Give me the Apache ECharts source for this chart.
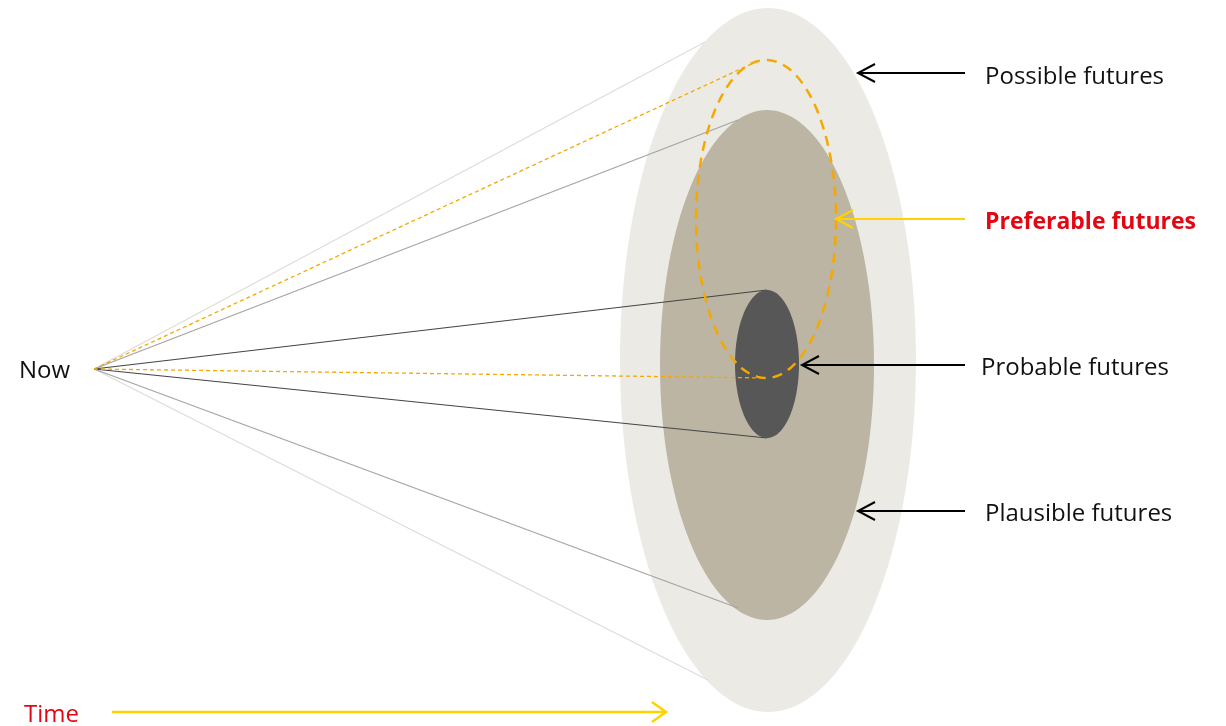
<!DOCTYPE html>
<html>
<head>
<meta charset="utf-8">
<script src="https://cdn.jsdelivr.net/npm/echarts@6/dist/echarts.min.js"></script>
<style>
    html, body { margin: 0; padding: 0; background: #fff; }
    #futures_cone { width: 1226px; height: 726px; }
</style>
</head>
<body>
<div id="futures_cone"></div>
<script>
// ellipses of the cone: [cx, cy, rx, ry]
const possibleEllipse = [768, 360, 148, 352];
const plausibleEllipse = [767, 365, 107, 255];
const probableEllipse = [767, 364, 32, 74];
const preferableEllipse = [766, 219, 70, 159];

// rays from "now" to each ellipse
const apex = [94, 369];
const possibleRayEnds = [[705, 42], [708, 680]];
const plausibleRayEnds = [[738, 120], [738, 608]];
const probableRayEnds = [[767, 290], [767, 438]];
const preferableRayEnds = [[760, 60], [766, 378]];

// label arrows [fromX, fromY, toX, toY]
const labelArrows = [[965, 73, 858, 73], [965, 219, 836, 219], [965, 365, 802, 365], [965, 511, 858, 511]];
const timeArrow = [[112, 712, 666, 712]];

const labelNames = ['Possible futures', 'Preferable futures', 'Probable futures', 'Plausible futures'];
const labelPos = [[985, 77], [985, 222], [981, 368], [985, 514]];
const sideTexts = [['Now', 19, 371], ['Time', 24, 715]];

const FONT = '"Open Sans", "Noto Sans", sans-serif';

const ellipsePoints = (api, e) => {
    const c = api.coord([e[0], e[1]]);
    const s = api.size([e[2], e[3]]);
    const pts = [];
    for (let i = 0; i < 160; i++) {
        const a = i / 160 * Math.PI * 2;
        pts.push([c[0] + s[0] * Math.cos(a), c[1] + s[1] * Math.sin(a)]);
    }
    return pts;
};

const ellipseSeries = (e, style) => ({
    type: 'custom',
    data: [e],
    silent: true,
    renderItem: (params, api) => ({
        type: 'polygon',
        shape: { points: ellipsePoints(api, e) },
        style
    })
});

const raySeries = (ends, style) => ({
    type: 'custom',
    data: ends,
    silent: true,
    renderItem: (params, api) => {
        const a = api.coord(apex);
        const b = api.coord([api.value(0), api.value(1)]);
        return {
            type: 'line',
            shape: { x1: a[0], y1: a[1], x2: b[0], y2: b[1] },
            style
        };
    }
});

const arrowSeries = (data, colorOf, width, head) => ({
    type: 'custom',
    data,
    silent: true,
    renderItem: (params, api) => {
        const p = api.coord([api.value(0), api.value(1)]);
        const q = api.coord([api.value(2), api.value(3)]);
        const dir = Math.sign(p[0] - q[0]);
        const color = colorOf(params.dataIndex);
        const style = { stroke: color, lineWidth: width, fill: null };
        return {
            type: 'group',
            children: [
                { type: 'line', shape: { x1: p[0], y1: p[1], x2: q[0], y2: q[1] }, style },
                {
                    type: 'polyline',
                    shape: { points: [[q[0] + dir * head[0], q[1] - head[1]], [q[0], q[1]], [q[0] + dir * head[0], q[1] + head[1]]] },
                    style
                }
            ]
        };
    }
});

const textSeries = (pos, textOf, styleOf) => ({
    type: 'custom',
    data: pos,
    silent: true,
    renderItem: (params, api) => {
        const p = api.coord([api.value(0), api.value(1)]);
        return {
            type: 'text',
            x: p[0], y: p[1],
            style: Object.assign({
                text: textOf(params.dataIndex),
                verticalAlign: 'middle',
                align: 'left'
            }, styleOf(params.dataIndex))
        };
    }
});

const drawCone = () => {
    const chart = echarts.init(document.getElementById('futures_cone'));

    const option = {
        animation: false,
        backgroundColor: '#ffffff',
        grid: { left: 0, right: 0, top: 0, bottom: 0 },
        xAxis: { type: 'value', min: 0, max: 1226, show: false },
        yAxis: { type: 'value', min: 0, max: 726, inverse: true, show: false },
        series: [
            ellipseSeries(possibleEllipse, { fill: '#ebeae5', stroke: null }),
            raySeries(possibleRayEnds, { stroke: '#dedcd5', lineWidth: 1.2 }),
            ellipseSeries(plausibleEllipse, { fill: '#bcb5a3', stroke: null }),
            raySeries(plausibleRayEnds, { stroke: '#a4a4a4', lineWidth: 1.2 }),
            raySeries(probableRayEnds, { stroke: '#444444', lineWidth: 1.2 }),
            ellipseSeries(probableEllipse, { fill: '#575757', stroke: null }),
            ellipseSeries(preferableEllipse, { fill: null, stroke: '#f5a800', lineWidth: 2.5, lineDash: [10, 7] }),
            raySeries(preferableRayEnds, { stroke: '#f5a800', lineWidth: 1.3, lineDash: [4, 3] }),
            arrowSeries(labelArrows, (i) => i === 1 ? '#ffd200' : '#000000', 2, [17, 9]),
            arrowSeries(timeArrow, () => '#ffd200', 2.5, [14, 10]),
            textSeries(labelPos, (i) => labelNames[i], (i) => i === 1
                ? { fill: '#e30613', font: 'bold 23px ' + FONT }
                : { fill: '#111111', font: '24px ' + FONT }),
            textSeries(sideTexts.map(t => [t[1], t[2]]), (i) => sideTexts[i][0], (i) => ({
                fill: i === 1 ? '#e30613' : '#111111',
                font: '24px ' + FONT
            }))
        ]
    };

    chart.setOption(option);
};

document.addEventListener('DOMContentLoaded', () => {
    drawCone();
});
</script>
</body>
</html>
